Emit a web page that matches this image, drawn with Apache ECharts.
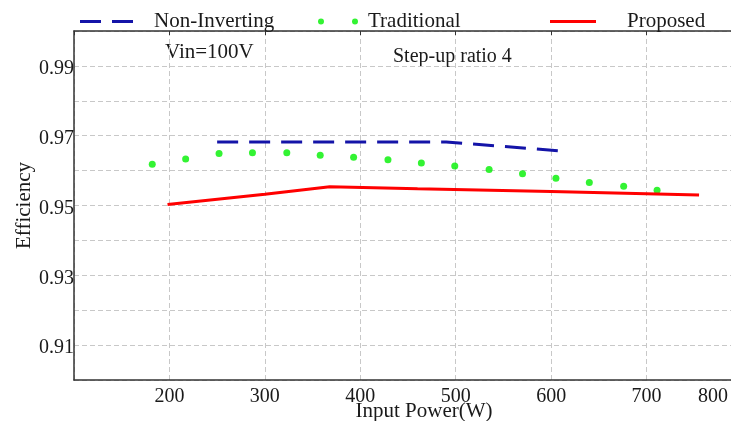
<!DOCTYPE html>
<html>
<head>
<meta charset="utf-8">
<script src="https://cdn.jsdelivr.net/npm/echarts@6/dist/echarts.min.js"></script>
<style>
html,body{margin:0;padding:0;background:#fff;}
#chart{width:731px;height:421px;}
</style>
</head>
<body>
<div id="chart"></div>
<script>
// ---- data ----
const nonInverting = [[250, 0.9682], [490, 0.9682], [611, 0.9656]];
const traditional = [
  [182, 0.9618], [217, 0.9633], [252, 0.9649], [287, 0.9651], [323, 0.9651],
  [358, 0.9644], [393, 0.9638], [429, 0.9631], [464, 0.9622], [499, 0.9613],
  [535, 0.9603], [570, 0.9591], [605, 0.9578], [640, 0.9566], [676, 0.9555],
  [711, 0.9544]
];
const proposed = [[198, 0.9503], [300, 0.9532], [368, 0.9554], [460, 0.9548], [600, 0.9540], [755, 0.9530]];
const xTicks = [100, 800, 100];        // min, max, interval
const yTicks = [0.90, 1.00, 0.01];     // min, max, interval
const seriesNames = ['Non-Inverting', 'Traditional', 'Proposed'];
const annotations = ['Vin=100V', 'Step-up ratio 4'];
const axisNames = ['Input Power(W)', 'Efficiency'];

const FONT = "'Liberation Serif','DejaVu Serif',serif";
const TXT = '#1a1a1a';
const gridLine = {show: true, lineStyle: {color: '#c8c8c8', width: 1, type: [5, 3]}};
const legendText = {fontFamily: FONT, fontSize: 21, color: TXT};

const chart = echarts.init(document.getElementById('chart'));
chart.setOption({
  animation: false,
  backgroundColor: '#fff',
  grid: {left: 74, top: 31, bottom: 41, right: -11, containLabel: false, outerBoundsMode: 'none'},
  legend: [
    {data: [{name: seriesNames[0], icon: 'path://M0,0h21v3h-21zM32,0h21v3h-21z'}],
     left: 80, top: 11, padding: 0, itemWidth: 53, itemHeight: 3,
     textStyle: Object.assign({padding: [0, 0, 0, 16]}, legendText)},
    {data: [{name: seriesNames[1], icon: 'path://M0,3a3,3 0 1,0 6,0a3,3 0 1,0 -6,0M34,3a3,3 0 1,0 6,0a3,3 0 1,0 -6,0'}],
     left: 318, top: 11, padding: 0, itemWidth: 40, itemHeight: 6,
     textStyle: Object.assign({padding: [0, 0, 0, 5]}, legendText)},
    {data: [{name: seriesNames[2], icon: 'path://M0,0h46v3h-46z'}],
     left: 550, top: 11, padding: 0, itemWidth: 46, itemHeight: 3,
     textStyle: Object.assign({padding: [0, 0, 0, 26]}, legendText)}
  ],
  xAxis: [
    {type: 'value', min: xTicks[0], max: xTicks[1], interval: xTicks[2], position: 'bottom',
     name: axisNames[0], nameLocation: 'middle', nameGap: 21, nameMoveOverlap: false,
     nameTextStyle: {fontFamily: FONT, fontSize: 21, color: TXT, padding: [0, 0, 0, 32]},
     axisLine: {show: true, onZero: false, lineStyle: {color: '#333', width: 1.5}},
     axisTick: {show: false},
     splitLine: gridLine,
     axisLabel: {fontFamily: FONT, fontSize: 20, color: TXT, margin: 7, showMinLabel: false,
       formatter: v => v === xTicks[1] ? '{m|' + v + '}' : String(v),
       rich: {m: {fontFamily: FONT, fontSize: 20, color: TXT, padding: [0, 58, 0, 0]}}}},
    {type: 'value', min: xTicks[0], max: xTicks[1], interval: xTicks[2], position: 'top',
     axisLine: {show: true, onZero: false, lineStyle: {color: '#333', width: 1.5}},
     axisTick: {show: true, inside: true, length: 4, lineStyle: {color: '#333'}},
     axisLabel: {show: false}, splitLine: {show: false}}
  ],
  yAxis: {
    type: 'value', min: yTicks[0], max: yTicks[1], interval: yTicks[2],
    name: axisNames[1], nameLocation: 'middle', nameGap: 39, nameRotate: 90, nameMoveOverlap: false,
    nameTextStyle: {fontFamily: FONT, fontSize: 21, color: TXT},
    axisLine: {show: true, onZero: false, lineStyle: {color: '#333', width: 1.5}},
    axisTick: {show: false},
    splitLine: gridLine,
    axisLabel: {fontFamily: FONT, fontSize: 20, color: TXT, margin: 0,
      formatter: v => { const k = Math.round(v * 100); return k % 2 === 1 ? '{a|' + (k / 100).toFixed(2) + '}' : ''; },
      rich: {a: {fontFamily: FONT, fontSize: 20, color: TXT, padding: [6, 0, 0, 0]}}}
  },
  graphic: [
    {type: 'text', x: 165, y: 52, style: {text: annotations[0], font: '21px ' + FONT, fill: TXT, verticalAlign: 'middle'}},
    {type: 'text', x: 393, y: 57, style: {text: annotations[1], font: '20px ' + FONT, fill: TXT, verticalAlign: 'middle'}}
  ],
  series: [
    {name: seriesNames[0], type: 'line', data: nonInverting, symbol: 'none', color: '#1414a8',
     lineStyle: {width: 3, type: [21, 11], color: '#1414a8', cap: 'butt'}},
    {name: seriesNames[1], type: 'scatter', data: traditional, symbol: 'circle', symbolSize: 7, color: '#00f000',
     itemStyle: {color: '#00f000'}},
    {name: seriesNames[2], type: 'line', data: proposed, symbol: 'none', color: '#ff0000',
     lineStyle: {width: 3, color: '#ff0000'}}
  ]
});
</script>
</body>
</html>
